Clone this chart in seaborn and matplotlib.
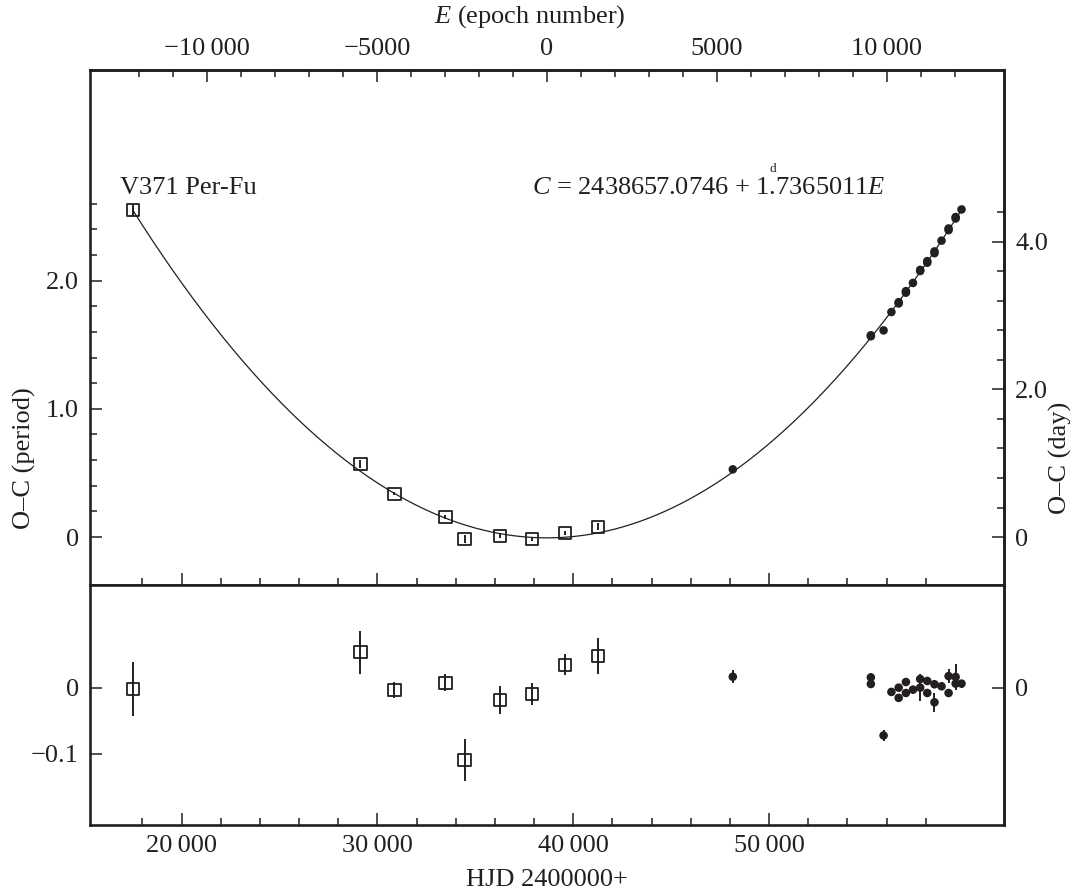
import numpy as np
import pandas as pd
import matplotlib
matplotlib.use("Agg")
import matplotlib.pyplot as plt
import seaborn as sns
from matplotlib.ticker import FixedLocator, FuncFormatter, NullFormatter

sns.set_theme(style="ticks")
plt.rcParams['font.family'] = ['Liberation Serif', 'DejaVu Serif']
plt.rcParams['mathtext.fontset'] = 'custom'
plt.rcParams['mathtext.rm'] = 'Liberation Serif'
plt.rcParams['mathtext.it'] = 'Liberation Serif:italic'

# ephemeris
T0 = 2438657.0746 - 2400000.0
PER = 1.7365011

# open squares (photographic / visual minima)
sq_hjd = [17500, 29130, 30870, 33470, 34450, 36250, 37910, 39570, 41250]
sq_oc = [2.549, 0.568, 0.338, 0.156, -0.016, 0.010, -0.013, 0.034, 0.080]
sq_res = [-0.002, 0.054, -0.003, 0.008, -0.109, -0.018, -0.009, 0.035, 0.048]
sq_err = [0.041, 0.033, 0.012, 0.013, 0.032, 0.021, 0.017, 0.016, 0.027]

# filled circles (CCD / photoelectric minima)
fc_hjd = [48150, 55200, 55200, 55850, 56250, 56620, 56620, 56990, 56990, 57350,
          57720, 57720, 58080, 58080, 58450, 58450, 58810, 59170, 59170, 59530,
          59530, 59830]
fc_oc = [0.528, 1.574, 1.566, 1.612, 1.755, 1.832, 1.822, 1.918, 1.906, 1.982,
         2.084, 2.075, 2.152, 2.140, 2.228, 2.214, 2.312, 2.407, 2.394, 2.496,
         2.485, 2.555]
fc_res = [0.017, 0.016, 0.006, -0.072, -0.006, 0.0005, -0.015, 0.009, -0.0076, -0.0025,
          0.0136, 0.0005, 0.0106, -0.0076, 0.0056, -0.0217, 0.0025, 0.018, -0.0076, 0.0167,
          0.0066, 0.0066]
fc_err = [0.010, 0.006, 0.006, 0.008, 0.006, 0.006, 0.006, 0.006, 0.006, 0.006,
          0.006, 0.020, 0.006, 0.006, 0.006, 0.014, 0.006, 0.010, 0.006, 0.020,
          0.006, 0.006]

hjd_ticks = [20000, 30000, 40000, 50000]
epoch_ticks = [-10000, -5000, 0, 5000, 10000]


def fmt_num(v, _=None):
    v = int(round(v))
    s = f"{abs(v):d}"
    if abs(v) >= 10000:
        s = s[:-3] + "\u2009" + s[-3:]
    return ("\u2212" if v < 0 else "") + s


sq = pd.DataFrame({"hjd": sq_hjd, "oc": sq_oc, "res": sq_res, "err": sq_err})
fc = pd.DataFrame({"hjd": fc_hjd, "oc": fc_oc, "res": fc_res, "err": fc_err})

# quadratic fit of O-C vs epoch
allh = np.array(sq_hjd + fc_hjd, dtype=float)
allo = np.array(sq_oc + fc_oc, dtype=float)
coef = np.polyfit((allh - T0) / PER, allo, 2)
grid = np.linspace(17500, 59950, 500)
curve = pd.DataFrame({"hjd": grid, "oc": np.polyval(coef, (grid - T0) / PER)})

W, H = 1077, 896
fig = plt.figure(figsize=(W / 100, H / 100), dpi=100)
L, R = 90, 1004
ax1 = fig.add_axes([L / W, 1 - 585 / H, (R - L) / W, (585 - 70) / H])
ax2 = fig.add_axes([L / W, 1 - 825 / H, (R - L) / W, (825 - 585) / H])

FS = 19
LFS = 19
INK = "#231f20"
spw = 1.9
tickw = 1.1

for ax in (ax1, ax2):
    ax.set_xlim(15320, 62000)
    for s in ax.spines.values():
        s.set_linewidth(spw)
        s.set_color(INK)
        s.set_visible(True)
    ax.set_facecolor("white")

ax1.set_ylim(-0.374, 3.643)
ax2.set_ylim(-0.2076, 0.156)

# --- upper panel
sns.lineplot(data=curve, x="hjd", y="oc", ax=ax1, color=INK, lw=0.9, legend=False)
ax1.errorbar(sq_hjd, sq_oc, yerr=sq_err, fmt="none", ecolor=INK, elinewidth=1.4, capsize=0)
sns.scatterplot(data=sq, x="hjd", y="oc", ax=ax1, marker="s", s=78, facecolor="none",
                edgecolor=INK, linewidth=1.3, legend=False, zorder=3)
ax1.errorbar(fc_hjd, fc_oc, yerr=fc_err, fmt="none", ecolor=INK, elinewidth=1.4, capsize=0)
sns.scatterplot(data=fc, x="hjd", y="oc", ax=ax1, marker="o", s=38, color=INK,
                edgecolor="none", legend=False, zorder=3)

# --- lower panel
ax2.errorbar(sq_hjd, sq_res, yerr=sq_err, fmt="none", ecolor=INK, elinewidth=1.4, capsize=0)
sns.scatterplot(data=sq, x="hjd", y="res", ax=ax2, marker="s", s=78, facecolor="none",
                edgecolor=INK, linewidth=1.3, legend=False, zorder=3)
ax2.errorbar(fc_hjd, fc_res, yerr=fc_err, fmt="none", ecolor=INK, elinewidth=1.4, capsize=0)
sns.scatterplot(data=fc, x="hjd", y="res", ax=ax2, marker="o", s=38, color=INK,
                edgecolor="none", legend=False, zorder=3)

for ax in (ax1, ax2):
    ax.set_xlabel("")
    ax.set_ylabel("")
    ax.xaxis.set_major_locator(FixedLocator(hjd_ticks))
    ax.xaxis.set_minor_locator(FixedLocator([v for v in range(18000, 58001, 2000) if v not in hjd_ticks]))
    ax.tick_params(axis="both", which="both", direction="in", color=INK,
                   labelsize=FS, labelcolor=INK, width=tickw)
    ax.tick_params(which="major", length=8.6)
    ax.tick_params(which="minor", length=5)
    ax.tick_params(top=False, right=False, left=True, bottom=True)

ax1.xaxis.set_major_formatter(NullFormatter())
ax2.xaxis.set_major_formatter(FuncFormatter(fmt_num))
ax2.tick_params(axis="x", pad=7)

ax1.yaxis.set_major_locator(FixedLocator([0, 1.0, 2.0]))
ax1.yaxis.set_minor_locator(FixedLocator([0.2, 0.4, 0.6, 0.8, 1.2, 1.4, 1.6, 1.8, 2.2, 2.4, 2.6]))
ax1.yaxis.set_major_formatter(FuncFormatter(lambda v, _: "0" if abs(v) < 1e-9 else f"{v:.1f}"))
ax2.yaxis.set_major_locator(FixedLocator([-0.1, 0.0]))
ax2.yaxis.set_minor_locator(FixedLocator([]))
ax2.yaxis.set_major_formatter(FuncFormatter(lambda v, _: "0" if abs(v) < 1e-9 else "\u2212" + f"{abs(v):.1f}"))
ax1.tick_params(axis="y", pad=8)
ax2.tick_params(axis="y", pad=8)

# right axes (days)
for ax, majors, minors in ((ax1, [0, 2.0, 4.0], [0.4, 0.8, 1.2, 1.6, 2.4, 2.8, 3.2, 3.6, 4.4]),
                           (ax2, [0], [])):
    sec = ax.secondary_yaxis("right", functions=(lambda y: y * PER, lambda d: d / PER))
    sec.yaxis.set_major_locator(FixedLocator(majors))
    sec.yaxis.set_minor_locator(FixedLocator(minors))
    sec.yaxis.set_major_formatter(FuncFormatter(lambda v, _: "0" if abs(v) < 1e-9 else f"{v:.1f}"))
    sec.tick_params(which="both", direction="in", color=INK, labelsize=FS,
                    labelcolor=INK, width=tickw, pad=8)
    sec.tick_params(which="major", length=8.6)
    sec.tick_params(which="minor", length=5)
    sec.spines["right"].set_linewidth(spw)
    sec.spines["right"].set_color(INK)

# top axis (epoch)
top = ax1.secondary_xaxis("top", functions=(lambda h: (h - T0) / PER, lambda e: e * PER + T0))
top.xaxis.set_major_locator(FixedLocator(epoch_ticks))
top.xaxis.set_minor_locator(FixedLocator([v for v in range(-12000, 12001, 1000) if v not in epoch_ticks]))
top.xaxis.set_major_formatter(FuncFormatter(fmt_num))
top.tick_params(which="both", direction="in", color=INK, labelsize=FS,
                labelcolor=INK, width=tickw, pad=7)
top.tick_params(which="major", length=8.6)
top.tick_params(which="minor", length=5)
top.spines["top"].set_linewidth(spw)
top.spines["top"].set_color(INK)


# texts
def px(x, y):
    return x / W, 1 - y / H


fig.text(*px(24, 458), "O\u2013C (period)", rotation=90, ha="center", va="center",
         fontsize=LFS, color=INK)
fig.text(*px(1060, 458), "O\u2013C (day)", rotation=90, ha="center", va="center",
         fontsize=LFS, color=INK)
fig.text(*px(547, 880), "HJD 2400000+", ha="center", va="center", fontsize=LFS, color=INK)
fig.text(*px(530, 17), r"$E$ (epoch number)", ha="center", va="center", fontsize=LFS, color=INK)
fig.text(*px(120, 188), "V371 Per-Fu", ha="left", va="center", fontsize=LFS, color=INK)

fx, fy = 532, 188
prefix = fig.text(*px(fx, fy), r"$C$ = 2438657.0746 + 1", ha="left", va="center",
                  fontsize=LFS, color=INK, alpha=0)
fig.text(*px(fx, fy), r"$C$ = 2438657.0746 + 1.7365011$E$", ha="left", va="center",
         fontsize=LFS, color=INK)
fig.canvas.draw()
bb = prefix.get_window_extent()
prefix.remove()
dot_x = bb.x1 + 0.13 * LFS * 100 / 72
fig.text(dot_x / W, 1 - (fy - 19) / H, "d", ha="center", va="center", fontsize=9.5, color=INK)

fig.savefig("out.png", dpi=100, facecolor="white")
